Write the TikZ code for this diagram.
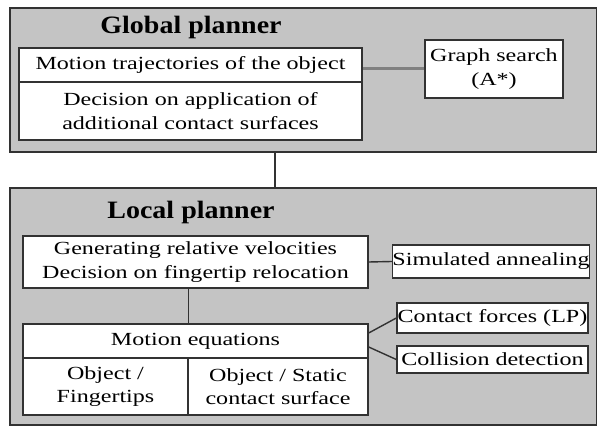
\documentclass[tikz,border=0pt]{standalone}
\usepackage{fontspec}
\setmainfont{Liberation Serif}
\newfontfamily\bodyfont[FakeStretch=1.3]{Liberation Serif}
\newfontfamily\titlefont[FakeStretch=1.12]{Liberation Serif}
\definecolor{panelgray}{RGB}{196,196,196}
\definecolor{edgegray}{RGB}{50,50,50}
\begin{document}
\begin{tikzpicture}[
	x=1pt, y=-1pt,
	font=\bodyfont\fontsize{18.5}{23.5}\selectfont,
	panel/.style={
		draw=edgegray,
		fill=panelgray,
		line width=2pt,
		rectangle,
		inner sep=0pt
	},
	box/.style={
		draw=edgegray,
		fill=white,
		line width=1.4pt,
		rectangle,
		inner sep=0pt,
		align=center
	},
	title/.style={
		font=\titlefont\fontsize{25}{30}\selectfont\bfseries
	},
	link/.style={
		draw=edgegray,
		line width=1.4pt
	}
]
\useasboundingbox (0,0) rectangle (597,427);

% panels
\node[panel, minimum width=587pt, minimum height=144pt] (global) at (303.5,80) {};
\node[panel, minimum width=587pt, minimum height=237pt] (local) at (303.5,306.5) {};
\node[title] (globaltitle) at (191,27) {Global planner};
\node[title] (localtitle) at (191,212) {Local planner};

% global planner
\node[box, minimum width=343pt, minimum height=34pt] (traj) at (190.5,65) {Motion trajectories of the object};
\node[box, minimum width=343pt, minimum height=58pt] (decision) at (190.5,111) {Decision on application of\\additional contact surfaces};
\node[box, minimum width=138pt, minimum height=58pt] (graph) at (494,69) {Graph search\\(A*)};

% local planner
\node[box, minimum width=345pt, minimum height=52pt] (genvel) at (195.5,262) {Generating relative velocities\\Decision on fingertip relocation};
\node[box, minimum width=345pt, minimum height=34pt] (moteq) at (195.5,341) {Motion equations};
\node[box, minimum width=165pt, minimum height=57pt] (objfing) at (105.5,386.5) {Object /\\Fingertips};
\node[box, minimum width=180pt, minimum height=57pt] (objstat) at (278,386.5) {Object / Static\\contact surface};
\node[box, minimum width=194pt, minimum height=33pt] (simann) at (491,261.5) {Simulated annealing};
\node[box, minimum width=191pt, minimum height=30pt] (contact) at (492.5,318) {Contact forces (LP)};
\node[box, minimum width=191pt, minimum height=27pt] (collision) at (492.5,359.5) {Collision detection};

% connectors
\draw[link, draw=gray, line width=3pt] (graph.west) -- (graph.west -| traj.east);
\draw[link, line width=2pt] (global.south -| 275,0) -- (local.north -| 275,0);
\draw[link] (genvel.east) -- (simann.west);
\draw[link] (genvel.south -| objfing.east) -- (moteq.north -| objfing.east);
\draw[link] ([yshift=8pt]moteq.east) -- (contact.west);
\draw[link] ([yshift=-6pt]moteq.east) -- (collision.west);

\end{tikzpicture}
\end{document}
